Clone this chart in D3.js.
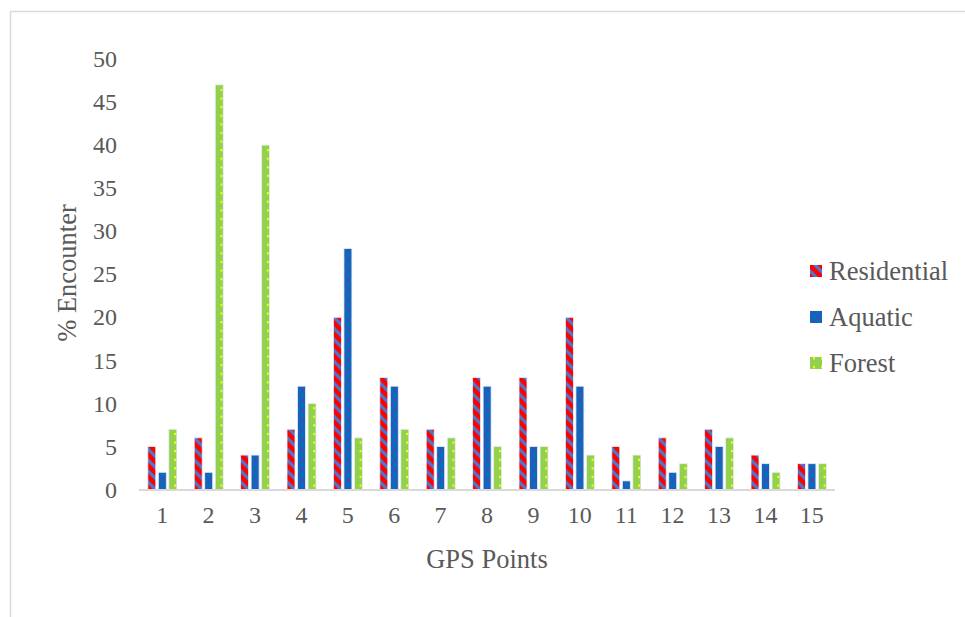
<!DOCTYPE html>
<html>
<head>
<meta charset="utf-8">
<script src="https://cdn.jsdelivr.net/npm/d3@7"></script>
<style>
  html, body { margin: 0; padding: 0; background: #fff; }
  svg text { font-family: "Liberation Serif", "Times New Roman", serif; fill: #595959; }
</style>
</head>
<body>
<svg id="chart" width="965" height="617"></svg>
<script>
// GPS sampling points and % encounter per habitat type
const gpsPoints = ["1","2","3","4","5","6","7","8","9","10","11","12","13","14","15"];
const seriesNames = ["Residential", "Aquatic", "Forest"];
const residential = [5, 6, 4, 7, 20, 13, 7, 13, 13, 20, 5, 6, 7, 4, 3];
const aquatic     = [2, 2, 4, 12, 28, 12, 5, 12, 5, 12, 1, 2, 5, 3, 3];
const forest      = [7, 47, 40, 10, 6, 7, 6, 5, 5, 4, 4, 3, 6, 2, 3];
const yTicks = [0, 5, 10, 15, 20, 25, 30, 35, 40, 45, 50];

const seriesValues = { Residential: residential, Aquatic: aquatic, Forest: forest };

const svg = d3.select("#chart");
const defs = svg.append("defs");

// Fill patterns: red with wide blue downward diagonal, blue with purple lattice, green with yellow dots
const W = 11, a = 2.2;
const pRes = defs.append("pattern").attr("id", "pat-Residential")
  .attr("patternUnits", "userSpaceOnUse").attr("width", W).attr("height", W);
pRes.append("rect").attr("width", W).attr("height", W).attr("fill", "#ff0000");
pRes.append("path")
  .attr("d", `M0,0 L${a},0 L${W},${W - a} L${W},${W} L${W - a},${W} L0,${a} Z ` +
             `M${W - a},0 L${W},0 L${W},${a} Z M0,${W - a} L${a},${W} L0,${W} Z`)
  .attr("fill", "#4a78d0");

const pAq = defs.append("pattern").attr("id", "pat-Aquatic")
  .attr("patternUnits", "userSpaceOnUse").attr("width", 8).attr("height", 10);
pAq.append("rect").attr("width", 8).attr("height", 10).attr("fill", "#0070c0");
pAq.append("path").attr("d", "M0,0 L8,10 M8,0 L0,10")
  .attr("stroke", "#7030a0").attr("stroke-width", 0.9).attr("fill", "none");

const pFo = defs.append("pattern").attr("id", "pat-Forest")
  .attr("patternUnits", "userSpaceOnUse").attr("width", 8).attr("height", 8.6);
pFo.append("rect").attr("width", 8).attr("height", 8.6).attr("fill", "#92d050");
pFo.append("rect").attr("x", 3).attr("y", 3).attr("width", 2).attr("height", 2).attr("fill", "#ffff00");

// Outer frame
svg.append("rect")
  .attr("x", 10.5).attr("y", 11.5).attr("width", 970).attr("height", 620)
  .attr("fill", "none").attr("stroke", "#d9d9d9").attr("stroke-width", 1.5);

const x0 = d3.scaleBand().domain(gpsPoints).range([139, 835]).padding(0);
const bw = x0.bandwidth();
const x1 = d3.scaleBand().domain(seriesNames).range([bw * 0.19, bw * 0.815]).paddingInner(0.24);
const y = d3.scaleLinear().domain([0, 50]).range([489.5, 59]);

// Bars
const groups = svg.append("g").selectAll("g")
  .data(gpsPoints)
  .join("g")
  .attr("transform", d => `translate(${x0(d)},0)`);

groups.selectAll("rect")
  .data((d, i) => seriesNames.map(s => ({ s, v: seriesValues[s][i] })))
  .join("rect")
  .attr("x", d => x1(d.s))
  .attr("width", x1.bandwidth())
  .attr("y", d => y(d.v))
  .attr("height", d => y(0) - y(d.v))
  .attr("fill", d => `url(#pat-${d.s})`)
  .attr("stroke", "#e8eef8")
  .attr("stroke-width", 0.8);

// X axis line and labels
svg.append("line")
  .attr("x1", x0.range()[0]).attr("x2", x0.range()[1])
  .attr("y1", y(0) + 0.5).attr("y2", y(0) + 0.5)
  .attr("stroke", "#d9d9d9").attr("stroke-width", 2);

const xAxis = svg.append("g").attr("transform", `translate(0,${y(0)})`)
  .call(d3.axisBottom(x0).tickSize(0).tickPadding(25));
xAxis.select(".domain").remove();
xAxis.selectAll("text").style("font-size", "24px").attr("fill", "#595959")
  .attr("dy", "0.36em").style("font-family", "Liberation Serif, serif");

// Y axis labels
const yAxis = svg.append("g").attr("transform", "translate(117,0)")
  .call(d3.axisLeft(y).tickValues(yTicks).tickSize(0).tickPadding(0));
yAxis.select(".domain").remove();
yAxis.selectAll("text").style("font-size", "24px").attr("fill", "#595959")
  .style("font-family", "Liberation Serif, serif");

// Axis titles
svg.append("text")
  .attr("x", (x0.range()[0] + x0.range()[1]) / 2).attr("y", 568)
  .attr("text-anchor", "middle").style("font-size", "26.5px")
  .text("GPS Points");

svg.append("text")
  .attr("transform", "translate(76,273) rotate(-90)")
  .attr("text-anchor", "middle").style("font-size", "26.5px")
  .text("% Encounter");

// Legend
const legend = svg.append("g").selectAll("g")
  .data(seriesNames)
  .join("g")
  .attr("transform", (d, i) => `translate(810,${271 + i * 46})`);
legend.append("rect")
  .attr("x", 0).attr("y", -6).attr("width", 12).attr("height", 12)
  .attr("fill", d => `url(#pat-${d})`);
legend.append("text")
  .attr("x", 19).attr("y", 8.5)
  .style("font-size", "26.5px")
  .text(d => d);
</script>
</body>
</html>
